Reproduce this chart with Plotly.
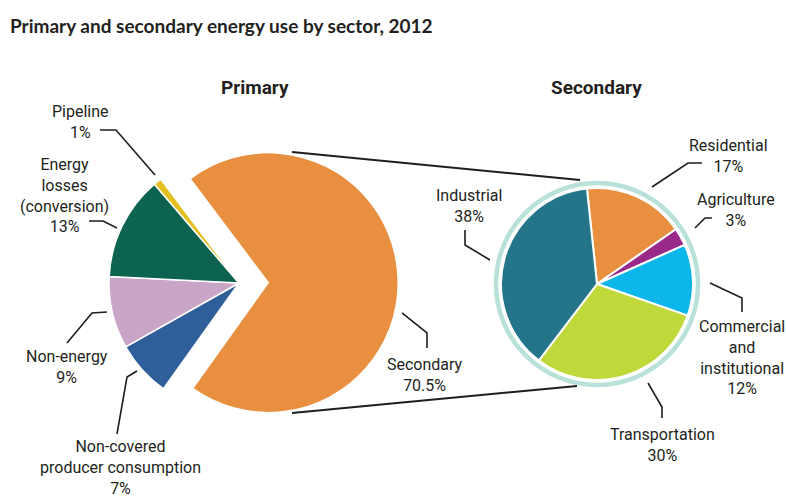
import plotly.graph_objects as go

W, H = 786, 499

# Primary energy use by sector, 2012 (% of total)
primary_labels = ["Secondary", "Non-covered<br>producer consumption", "Non-energy",
                  "Energy<br>losses<br>(conversion)", "Pipeline"]
primary_values = [70.5, 7, 9, 13, 1]
primary_colors = ["#E8903F", "#2E5F9A", "#C9A5C8", "#0B6350", "#E2C11E"]

# Secondary energy use by sector, 2012 (% of total)
secondary_labels = ["Residential", "Agriculture", "Commercial<br>and<br>institutional",
                    "Transportation", "Industrial"]
secondary_values = [17, 3, 12, 30, 38]
secondary_colors = ["#E8903F", "#9A2A8A", "#0CB5EA", "#C1D83B", "#24758A"]

TEXT = "#231f20"
LABEL_FONT = dict(family="Roboto, Arial, sans-serif", size=16, color=TEXT)


def px(x):
    return x / W


def py(y):
    return 1 - y / H


# pie geometry in pixels
P_CX, P_CY, P_R, P_PULL = 239, 283, 130, 0.225
S_CX, S_CY, S_R = 597, 284, 96
p_half = P_R * (1 + P_PULL)

fig = go.Figure()

fig.add_trace(go.Pie(
    values=primary_values,
    labels=primary_labels,
    sort=False,
    direction="clockwise",
    rotation=-37,
    pull=[P_PULL, 0, 0, 0, 0],
    marker=dict(colors=primary_colors, line=dict(color="white", width=1.5)),
    textinfo="none",
    hoverinfo="skip",
    domain=dict(x=[px(P_CX - p_half), px(P_CX + p_half)],
                y=[py(P_CY + p_half), py(P_CY - p_half)]),
))

fig.add_trace(go.Pie(
    values=secondary_values,
    labels=secondary_labels,
    sort=False,
    direction="clockwise",
    rotation=-6,
    marker=dict(colors=secondary_colors, line=dict(color="white", width=2)),
    textinfo="none",
    hoverinfo="skip",
    domain=dict(x=[px(S_CX - S_R), px(S_CX + S_R)],
                y=[py(S_CY + S_R), py(S_CY - S_R)]),
))

shapes = []

# light ring around the secondary pie
ring_r = S_R + 5
shapes.append(dict(type="circle", xref="paper", yref="paper",
                   x0=px(S_CX - ring_r), x1=px(S_CX + ring_r),
                   y0=py(S_CY + ring_r), y1=py(S_CY - ring_r),
                   line=dict(color="#B7E1D9", width=4.5), layer="below"))

# lines joining the secondary slice to the breakdown pie
for (x0, y0, x1, y1) in [(292, 152, 580, 180), (292, 413, 577, 386)]:
    shapes.append(dict(type="line", xref="paper", yref="paper",
                       x0=px(x0), y0=py(y0), x1=px(x1), y1=py(y1),
                       line=dict(color="#1e1e1e", width=2)))

# leader lines: one polyline per label
leaders = {
    "Pipeline": [(100, 130), (116, 130), (155, 175)],
    "Energy": [(89, 221), (103, 221), (117, 228)],
    "Non-energy": [(67, 343), (92, 313), (107, 312)],
    "Non-covered": [(117, 434), (127, 377), (137, 371)],
    "Secondary": [(402, 313), (427, 333), (427, 348)],
    "Industrial": [(465, 230), (465, 245), (490, 260)],
    "Residential": [(702, 163), (688, 163), (652, 187)],
    "Agriculture": [(712, 218), (705, 218), (695, 228)],
    "Commercial": [(710, 283), (742, 298), (742, 312)],
    "Transportation": [(648, 383), (662, 407), (662, 418)],
}
for pts in leaders.values():
    path = "M " + " L ".join(f"{px(x):.5f},{py(y):.5f}" for x, y in pts)
    shapes.append(dict(type="path", xref="paper", yref="paper", path=path,
                       line=dict(color="#1e1e1e", width=1.6)))

# label anchor points (text-block centres, pixels)
primary_pos = [(425, 375), (120, 467), (67, 367), (64, 195), (80, 122.5)]
secondary_pos = [(728, 156.5), (736, 210), (742, 357.5), (662, 444.5), (469, 206)]

annotations = []
for labels, values, pos in [(primary_labels, primary_values, primary_pos),
                            (secondary_labels, secondary_values, secondary_pos)]:
    for lab, val, (x, y) in zip(labels, values, pos):
        annotations.append(dict(text=f"{lab}<br>{val:g}%", x=px(x), y=py(y),
                                xref="paper", yref="paper", showarrow=False,
                                xanchor="center", yanchor="middle",
                                font=LABEL_FONT))

# pie headings
for text, x in [("Primary", 255), ("Secondary", 596)]:
    annotations.append(dict(text=f"<b>{text}</b>", x=px(x), y=py(88),
                            xref="paper", yref="paper", showarrow=False,
                            xanchor="center", yanchor="middle",
                            font=dict(family="Roboto, Arial, sans-serif", size=19, color=TEXT)))

# chart title
annotations.append(dict(text="<b>Primary and secondary energy use by sector, 2012</b>",
                        x=px(8), y=py(25), xref="paper", yref="paper", showarrow=False,
                        xanchor="left", yanchor="middle",
                        font=dict(family="Lato, sans-serif", size=19, color=TEXT)))

fig.update_layout(
    width=W, height=H,
    margin=dict(l=0, r=0, t=0, b=0),
    paper_bgcolor="white", plot_bgcolor="white",
    showlegend=False,
    shapes=shapes,
    annotations=annotations,
)

fig.write_html("out.html")
